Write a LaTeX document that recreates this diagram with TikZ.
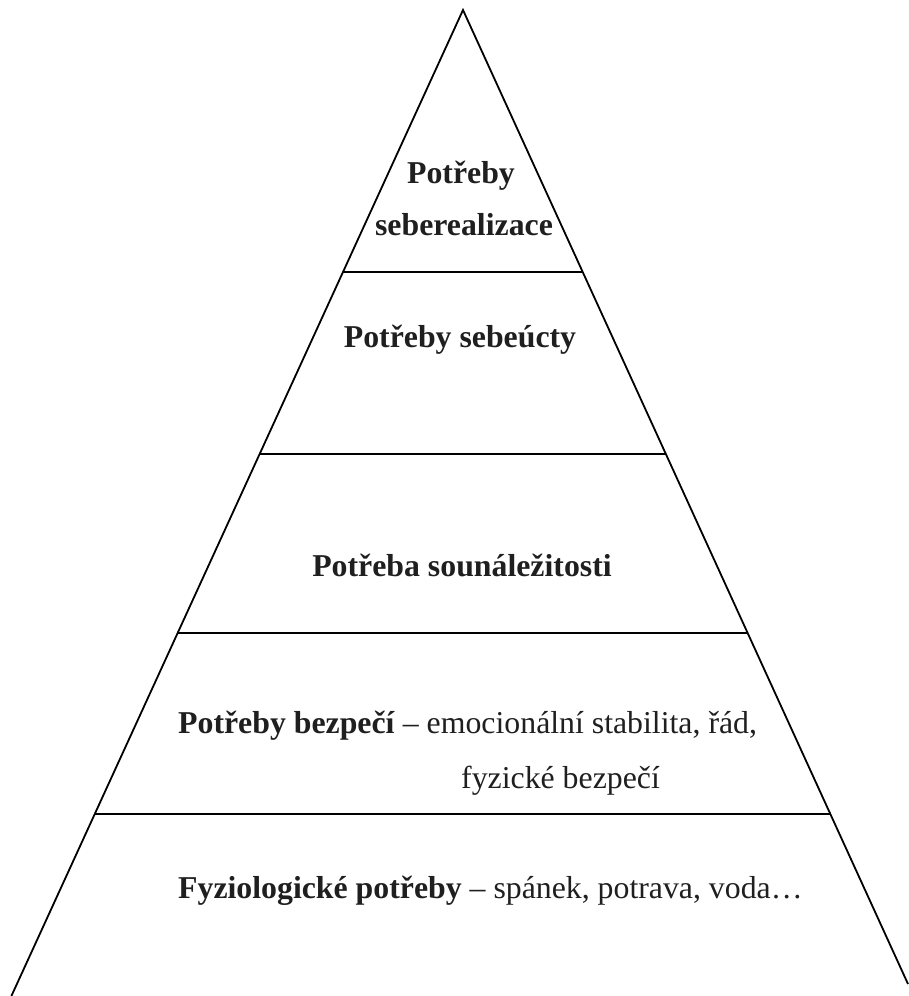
\documentclass[tikz,border=0pt]{standalone}
\usepackage{fontspec}
\setmainfont{Liberation Serif}
\begin{document}
\begin{tikzpicture}[x=1pt,y=-1pt,
  edge/.style={line width=1.8pt,black},
  lbl/.style={inner sep=0pt,font=\fontsize{31.8}{38}\selectfont,text=black!88}]
\useasboundingbox (0,0) rectangle (908,996);
% triangle corners
\coordinate (apex) at (463,10);
\coordinate (bl) at (11.4,996);
\coordinate (br) at (908,984);
% level line endpoints
\coordinate (l1) at (343,272);   \coordinate (r1) at (583,272);
\coordinate (l2) at (259.6,454); \coordinate (r2) at (666.4,454);
\coordinate (l3) at (177.7,633); \coordinate (r3) at (748.3,633);
\coordinate (l4) at (94.8,814);  \coordinate (r4) at (831.2,814);
\draw[edge] (bl) -- (apex) -- (br);
\draw[edge] (l1) -- (r1);
\draw[edge] (l2) -- (r2);
\draw[edge] (l3) -- (r3);
\draw[edge] (l4) -- (r4);
% labels
\node[lbl,anchor=base] (t1a) at (461,183) {\textbf{Potřeby}};
\node[lbl,anchor=base] (t1b) at (464,235) {\textbf{seberealizace}};
\node[lbl,anchor=base] (t2) at (460,347) {\textbf{Potřeby sebeúcty}};
\node[lbl,anchor=base] (t3) at (462,576) {\textbf{Potřeba sounáležitosti}};
\node[lbl,anchor=base west] (t4a) at (178,733) {\textbf{Potřeby bezpečí} – emocionální stabilita, řád,};
\node[lbl,anchor=base east] (t4b) at (660,788) {fyzické bezpečí};
\node[lbl,anchor=base west] (t5) at (178,898) {\textbf{Fyziologické potřeby} – spánek, potrava, voda…};
\end{tikzpicture}
\end{document}
